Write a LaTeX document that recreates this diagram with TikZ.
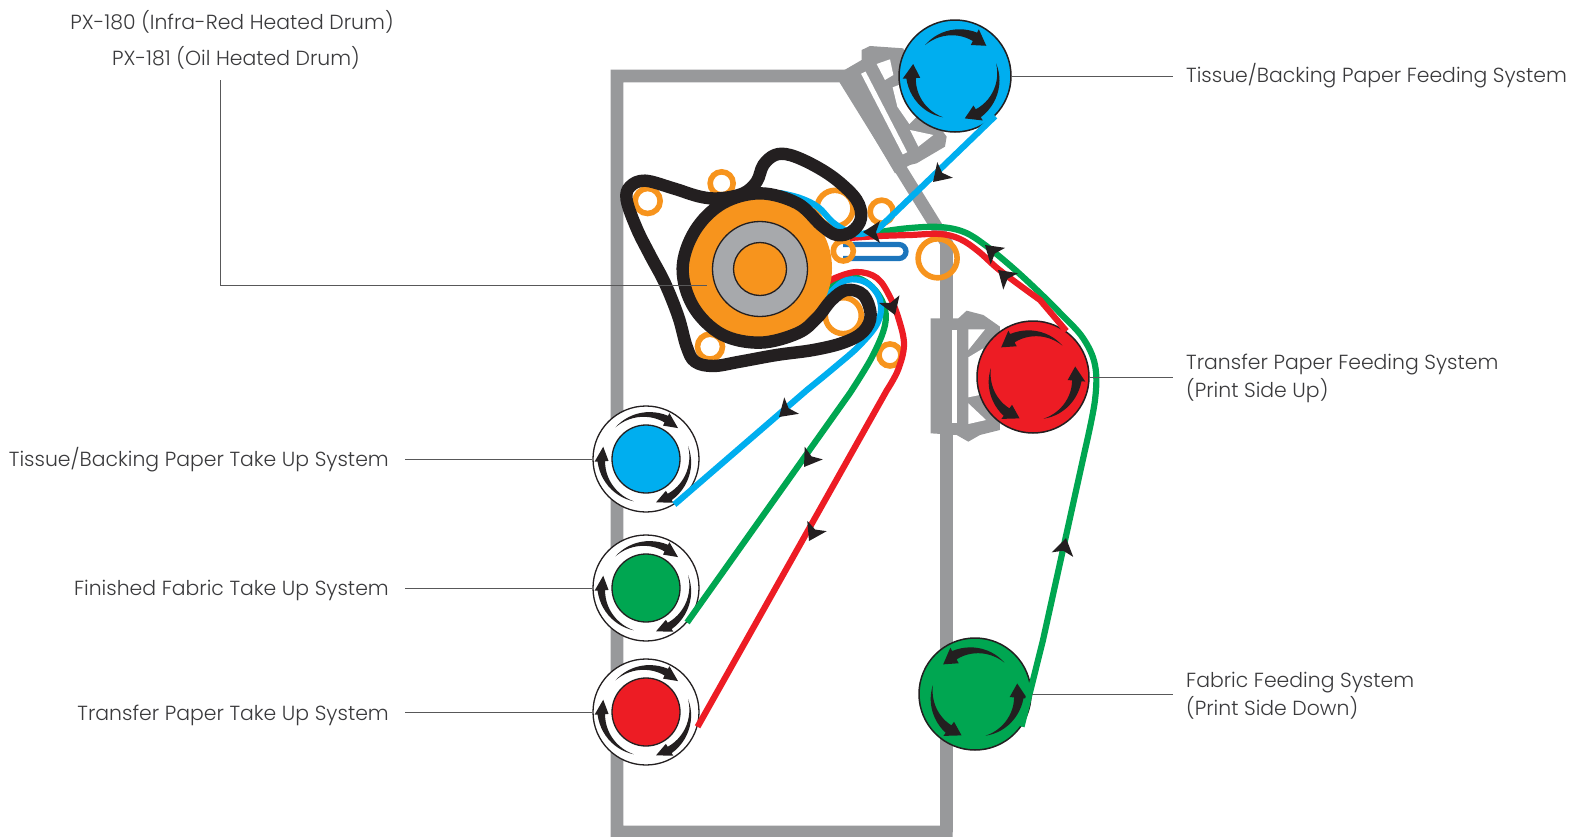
\documentclass[tikz,border=0pt]{standalone}
\usepackage{fontspec}
\setmainfont{Poppins Light}
\usetikzlibrary{calc}
\definecolor{cy}{HTML}{00AEEF}
\definecolor{rd}{HTML}{ED1C24}
\definecolor{gn}{HTML}{00A651}
\definecolor{og}{HTML}{F7941D}
\definecolor{fr}{HTML}{98999B}
\definecolor{dg}{HTML}{A7A9AC}
\definecolor{bl}{HTML}{1C75BC}
\definecolor{bk}{HTML}{231F20}
\definecolor{tx}{HTML}{3A3A3C}
\tikzset{
 labeltext/.style={text=tx,inner sep=0pt,font=\fontsize{20.4}{28}\selectfont,align=left},
 leader/.style={draw=tx!85,line width=0.9pt},
 feedroll/.style={circle,draw=bk,line width=1.5pt,minimum size=112pt,inner sep=0pt},
 takeout/.style={circle,draw=bk,fill=white,line width=1.3pt,minimum size=106pt,inner sep=0pt},
 takein/.style={circle,draw=bk,line width=1.3pt,minimum size=68pt,inner sep=0pt},
 idler/.style={circle,draw=og,line width=5.6pt,inner sep=0pt},
 web/.style={line width=6.2pt,line join=round},
}
% #1 node, #2 radius, #3 tail angle, #4 tip angle, #5 width
\newcommand\rotarrow[5]{%
 \begin{scope}[shift={(#1.center)}]
 \pgfmathsetmacro\sgn{(#4>#3)?1:-1}
 \pgfmathsetmacro\bb{#4-\sgn*19}
 \fill[bk] plot[domain=0:1,samples=14] ({#3+(\bb-#3)*\x}:{#2+#5*\x*.9}) -- (\bb:{#2+#5*1.5}) -- (#4:{#2+.5}) -- (\bb:{#2-#5*1.3}) -- plot[domain=0:1,samples=14] ({\bb+(#3-\bb)*\x}:{#2-#5*(1-\x)*.6}) -- cycle;
 \end{scope}}
\newcommand\chev[3]{%
 \fill[bk,shift={(#1,#2)},rotate=-#3] (0,0) -- (-17,-11) -- (-13,0) -- (-17,11) -- cycle;}
\newcommand\threecw[3]{%
 \rotarrow{#1}{#2}{226}{316}{#3}\rotarrow{#1}{#2}{343}{437}{#3}\rotarrow{#1}{#2}{106}{196}{#3}}
\newcommand\threeccw[3]{%
 \rotarrow{#1}{#2}{313}{223}{#3}\rotarrow{#1}{#2}{192}{108}{#3}\rotarrow{#1}{#2}{76}{-14}{#3}}
\begin{document}
\begin{tikzpicture}[x=1pt,y=-1pt]
\useasboundingbox (0,0) rectangle (1575,836);
% frame
\draw[fr,line width=12.6pt,miter limit=10] (617,842) -- (617,76) -- (843,76) -- (946.5,243) -- (946.5,832) (611,832) -- (952.5,832);
% upper stand
\begin{scope}[shift={(820,0)},x=.3333pt,y=-.3333pt]
\fill[fr] (60,212) -- (70,212) -- (125,180) -- (125,150) -- (150,138) -- (250,145) -- (300,300) -- (380,410) -- (375,440) -- (290,490) -- (270,495) -- (225,520) -- (60,240) -- cycle;
\draw[white,line width=5pt] (130,218) -- (255,460);
\fill[white] (170,192) -- (210,178) -- (220,225) -- (195,240) -- cycle;
\fill[white] (270,390) -- (340,405) -- (295,440) -- cycle;
\fill[white] (218,262) -- (232,320) -- (268,372) -- (290,350) -- (250,250) -- cycle;
\end{scope}
% lower stand
\begin{scope}[shift={(900,300)},x=.3333pt,y=-.3333pt]
\fill[fr] (92,55) -- (175,55) -- (200,32) -- (250,45) -- (300,80) -- (300,390) -- (240,405) -- (205,425) -- (170,405) -- (92,400) -- cycle;
\fill[white] (157,90) rectangle (172,370);
\fill[white] (205,88) -- (255,88) -- (205,150) -- cycle;
\fill[white] (205,310) -- (205,372) -- (258,360) -- cycle;
\fill[white] (205,172) -- (250,145) -- (240,285) -- (205,292) -- cycle;
\end{scope}
% rollers (feed / take up)
\node[feedroll,fill=cy] (feedtissue) at (955,76) {};
\node[feedroll,fill=rd] (feedtransfer) at (1033,377) {};
\node[feedroll,fill=gn] (feedfabric) at (975,694) {};
\node[takeout] (uptissueo) at (646,459) {};
\node[takeout] (upfabrico) at (646,588) {};
\node[takeout] (uptransfero) at (646,712) {};
\node[takein,fill=cy] (uptissue) at (646,459) {};
\node[takein,fill=gn] (upfabric) at (646,588) {};
\node[takein,fill=rd] (uptransfer) at (646,712) {};
\threecw{feedtissue}{43}{6.3}
\threeccw{feedtransfer}{43}{6.3}
\threeccw{feedfabric}{43}{6.3}
\threecw{uptissue}{44}{5}
\threecw{upfabric}{44}{5}
\threecw{uptransfer}{44}{5}
% blue slot
\draw[bl,line width=5.2pt,rounded corners=7pt] (843,244.5) -- (906,244.5) -- (906,258.5) -- (843,258.5);
% idlers
\begin{scope}[shift={(600,150)},x=.3333pt,y=-.3333pt]
\node[idler,minimum size=25pt] (id1) at (143,153) {};
\node[idler,minimum size=23pt] (id2) at (365,100) {};
\node[idler,minimum size=36pt] (id3) at (705,175) {};
\node[idler,minimum size=23pt] (id4) at (845,185) {};
\node[idler,minimum size=20pt] (id5) at (730,303) {};
\node[idler,minimum size=39pt] (id6) at (1013,325) {};
\node[idler,minimum size=36pt] (id7) at (730,497) {};
\node[idler,minimum size=25pt] (id8) at (330,590) {};
\node[idler,minimum size=22pt] (id9) at (870,615) {};
\end{scope}
% webs
\draw[web,gn] (feedfabric.-35) -- (1043,640) -- plot[smooth,tension=.6] coordinates {(1085,450) (1095,400) (1095,365) (1083,338) (1062,315) (1040,293) (1013,268) (985,245) (964,232) (940,227) (910,228) (880,232) (850,238)};
\draw[web,gn] plot[smooth,tension=.6] coordinates {(826,288) (837,282) (853,277) (870,285) (883,303) (885,325) (872,357) (850,393)} -- (upfabrico.-40);
\draw[web,rd] (feedtransfer.54) -- plot[smooth,tension=.6] coordinates {(1040,300) (1018,284) (997,268) (978,251) (960,239) (940,234) (910,235) (880,236) (850,238)};
\draw[web,rd] plot[smooth,tension=.6] coordinates {(824,285) (835,278) (857,272) (877,278) (890,297) (899,320) (904,345) (898,370) (887,390)} -- (uptransfero.-16);
\draw[web,cy] (feedtissue.-45) -- plot[smooth,tension=.6] coordinates {(877,230) (856,234) (835,224) (818,207) (800,198) (780,193)};
\draw[web,cy] plot[smooth,tension=.6] coordinates {(810,317) (830,293) (847,280) (867,283) (880,300) (878,322) (860,345) (835,367) (807,390)} -- (uptissueo.-58);
% drum
\node[circle,fill=og,inner sep=0pt,minimum size=144pt] (drum) at (760,268) {};
\node[circle,fill=dg,draw=bk,line width=1.3pt,inner sep=0pt,minimum size=95pt] (drummid) at (760,269) {};
\node[circle,fill=og,draw=bk,line width=1.3pt,inner sep=0pt,minimum size=53pt] (drumcore) at (760,269) {};
% belt
\begin{scope}[shift={(600,150)},x=.3333pt,y=-.3333pt]
\draw[bk,line width=12.4pt,line join=round] plot[smooth cycle,tension=.6] coordinates {(664,226) (710,255) (755,245) (783,205) (770,150) (710,90) (640,45) (570,15) (525,15) (490,45) (470,95) (430,130) (360,145) (300,140) (220,115) (135,92) (90,110) (80,150) (110,235) (150,315) (195,400) (235,500) (260,590) (285,635) (340,648) (420,635) (530,615) (640,600) (730,578) (790,545) (812,495) (790,435) (740,420) (695,450) (650,505) (592,550) (480,578) (365,553) (280,470) (248,355) (285,242) (368,160) (480,130) (592,160)};
\end{scope}
% flow arrows
\chev{933}{182}{135}
\chev{863}{232}{180}
\chev{895}{315}{70}
\chev{779}{417}{138}
\chev{804}{467}{125}
\chev{809}{541}{118}
\chev{1066}{538}{282}
\chev{985}{245}{221}
\chev{998}{270}{222}
% labels
\node[labeltext,anchor=center] (lab180) at (232,22) {PX-180 (Infra-Red Heated Drum)};
\node[labeltext,anchor=center] (lab181) at (236,58) {PX-181 (Oil Heated Drum)};
\node[labeltext,anchor=west] (labfeedtissue) at (1186,76) {Tissue/Backing Paper Feeding System};
\node[labeltext,anchor=west] (labfeedtransfer) at (1186,378.5) {Transfer Paper Feeding System\\(Print Side Up)};
\node[labeltext,anchor=west] (labfeedfabric) at (1186,696) {Fabric Feeding System\\(Print Side Down)};
\node[labeltext,anchor=east] (labuptissue) at (389,460) {Tissue/Backing Paper Take Up System};
\node[labeltext,anchor=east] (labupfabric) at (389,590) {Finished Fabric Take Up System};
\node[labeltext,anchor=east] (labuptransfer) at (389,715) {Transfer Paper Take Up System};
% leaders
\coordinate (drumhit) at (707,285);
\draw[leader] (220,80) -- (220,285) -- (drumhit);
\draw[leader] (feedtissue.east) -- ([xshift=-13pt]labfeedtissue.west |- feedtissue.east);
\draw[leader] (feedtransfer.east) -- ([xshift=-13pt]labfeedtransfer.west |- feedtransfer.east);
\draw[leader] (feedfabric.east) -- ([xshift=-13pt]labfeedfabric.west |- feedfabric.east);
\draw[leader] ([xshift=16pt]labuptissue.east |- uptissueo.west) -- (uptissueo.west);
\draw[leader] ([xshift=16pt]labupfabric.east |- upfabrico.west) -- (upfabrico.west);
\draw[leader] ([xshift=16pt]labuptransfer.east |- uptransfero.west) -- (uptransfero.west);
\end{tikzpicture}
\end{document}
